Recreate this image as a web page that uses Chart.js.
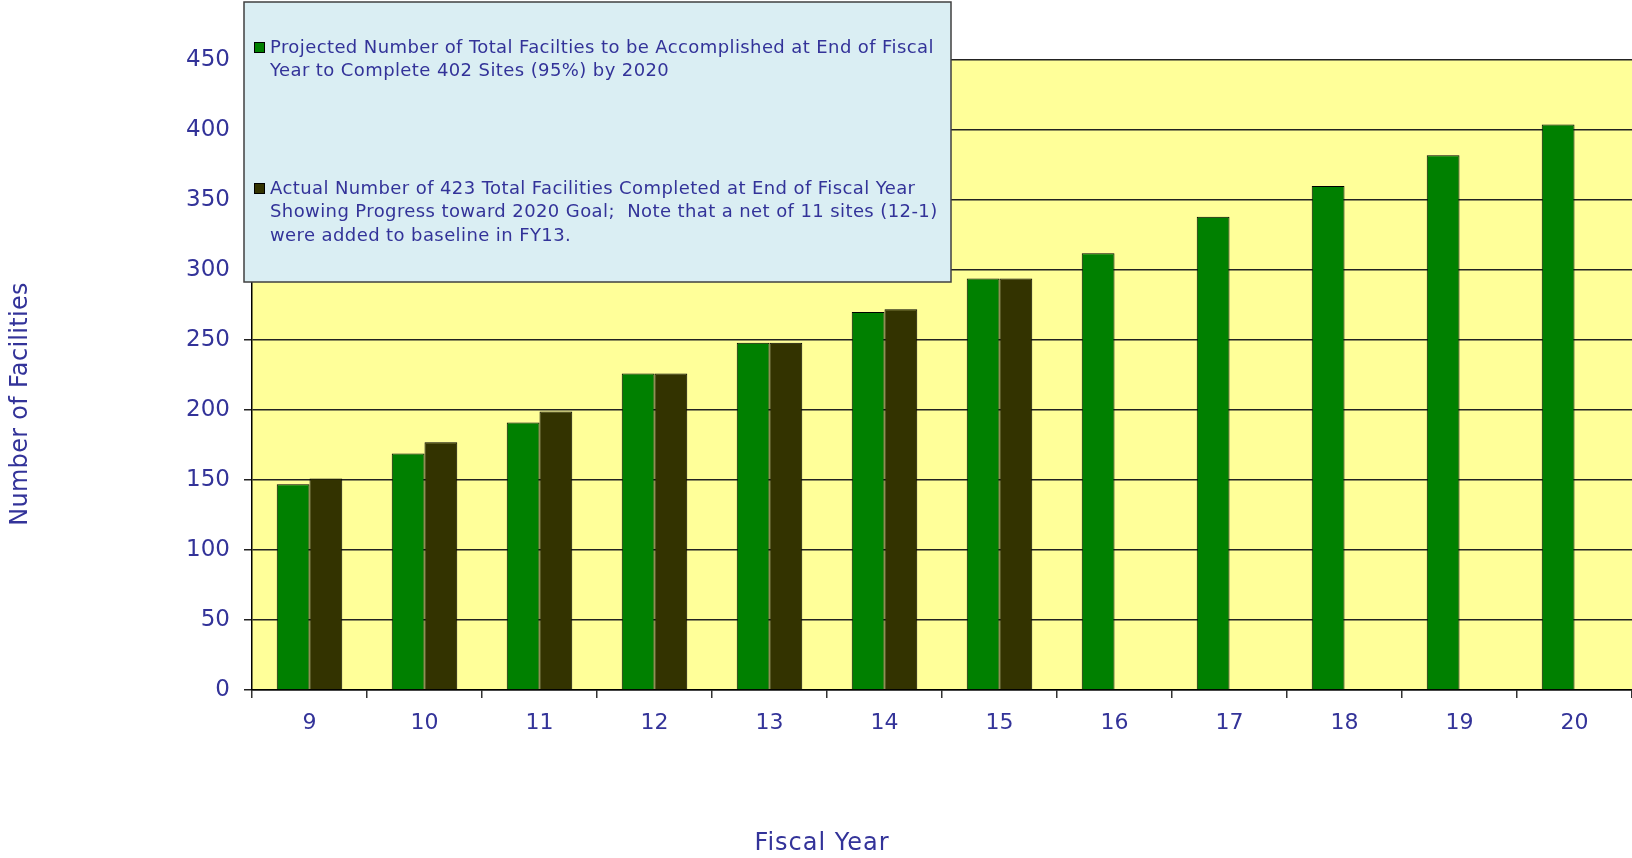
<!DOCTYPE html>
<html>
<head>
<meta charset="utf-8">
<title>Number of Facilities by Fiscal Year</title>
<script src="https://cdn.jsdelivr.net/npm/chart.js@4.4.1/dist/chart.umd.min.js"></script>
<style>
    html, body { margin: 0; padding: 0; background: #ffffff; }
    #wrap { width: 1632px; height: 858px; position: relative; }
</style>
</head>
<body>
<div id="wrap"><canvas id="facilitiesChart"></canvas></div>
<script>
const fiscalYears = ['9', '10', '11', '12', '13', '14', '15', '16', '17', '18', '19', '20'];
const projected = [147, 169, 191, 226, 248, 270, 294, 312, 338, 360, 382, 404];
const actual = [151, 177, 199, 226, 248, 272, 294, null, null, null, null, null];
const yTicks = [0, 50, 100, 150, 200, 250, 300, 350, 400, 450];

const projectedLegend = [
    'Projected Number of Total Facilties to be Accomplished at End of Fiscal',
    'Year to Complete 402 Sites (95%) by 2020'
];
const actualLegend = [
    'Actual Number of 423 Total Facilities Completed at End of Fiscal Year',
    'Showing Progress toward 2020 Goal;  Note that a net of 11 sites (12-1)',
    'were added to baseline in FY13.'
];

const textBlue = '#333399';
const fontFamily = '"DejaVu Sans", Verdana, sans-serif';

// yellow plot area behind the bars
const plotBackground = {
    id: 'plotBackground',
    beforeDraw(chart) {
        const { ctx, chartArea: a } = chart;
        ctx.save();
        ctx.fillStyle = '#FFFF99';
        ctx.fillRect(a.left, a.top, a.right - a.left, a.bottom - a.top);
        ctx.restore();
    }
};

// axis titles sit off-centre in the original, so draw them here
const axisTitles = {
    id: 'axisTitles',
    afterDraw(chart) {
        const ctx = chart.ctx;
        ctx.save();
        ctx.fillStyle = textBlue;
        ctx.font = '24px ' + fontFamily;
        ctx.textAlign = 'center';
        ctx.textBaseline = 'middle';
        ctx.letterSpacing = '1px';
        ctx.fillText('Fiscal Year', 822, 844);
        ctx.letterSpacing = '0.3px';
        ctx.translate(21, 404);
        ctx.rotate(-Math.PI / 2);
        ctx.fillText('Number of Facilities', 0, 0);
        ctx.restore();
    }
};

// boxed legend in the top left corner
const boxLegend = {
    id: 'boxLegend',
    afterDraw(chart) {
        const ctx = chart.ctx;
        const entries = [
            { lines: projectedLegend, y: 47 },
            { lines: actualLegend, y: 188 }
        ];
        ctx.save();
        ctx.fillStyle = '#DAEEF3';
        ctx.fillRect(244, 2, 707, 280);
        ctx.strokeStyle = '#404040';
        ctx.lineWidth = 1.5;
        ctx.strokeRect(244, 2, 707, 280);
        ctx.font = '18px ' + fontFamily;
        ctx.letterSpacing = '0.4px';
        ctx.textBaseline = 'middle';
        chart.data.datasets.forEach((ds, i) => {
            const e = entries[i];
            ctx.fillStyle = ds.backgroundColor;
            ctx.fillRect(254, e.y - 5, 11, 11);
            ctx.strokeStyle = '#000';
            ctx.lineWidth = 1;
            ctx.strokeRect(254.5, e.y - 4.5, 10, 10);
            ctx.fillStyle = textBlue;
            e.lines.forEach((line, k) => {
                ctx.fillText(line, 270, e.y + 1 + k * 23.7);
            });
        });
        ctx.restore();
    }
};

const ctx = document.getElementById('facilitiesChart').getContext('2d');
new Chart(ctx, {
    type: 'bar',
    data: {
        labels: fiscalYears,
        datasets: [{
            label: projectedLegend.join(' '),
            data: projected,
            backgroundColor: '#008000',
            borderColor: '#000000',
            borderWidth: 1,
            categoryPercentage: 0.57,
            barPercentage: 1.0
        }, {
            label: actualLegend.join(' '),
            data: actual,
            backgroundColor: '#333300',
            borderColor: '#000000',
            borderWidth: 1,
            categoryPercentage: 0.57,
            barPercentage: 1.0
        }]
    },
    options: {
        responsive: true,
        maintainAspectRatio: false,
        animation: false,
        layout: {
            padding: { top: 60, bottom: 0, left: 0, right: 0 }
        },
        plugins: {
            legend: { display: false },
            title: { display: false },
            tooltip: { enabled: false }
        },
        scales: {
            x: {
                offset: true,
                afterFit: (s) => { s.height = 168; },
                grid: {
                    offset: true,
                    drawOnChartArea: false,
                    drawTicks: true,
                    tickLength: 8,
                    color: '#333333',
                    lineWidth: 1.5
                },
                border: { color: '#000000', width: 1.5 },
                ticks: {
                    color: textBlue,
                    padding: 12,
                    font: { family: fontFamily, size: 22 }
                }
            },
            y: {
                min: 0,
                max: 450,
                afterFit: (s) => { s.width = 252; },
                afterBuildTicks: (s) => { s.ticks = yTicks.map(v => ({ value: v })); },
                grid: {
                    color: '#222222',
                    lineWidth: 1.5,
                    drawTicks: true,
                    tickLength: 8
                },
                border: { color: '#000000', width: 1.5 },
                ticks: {
                    color: textBlue,
                    padding: 14,
                    font: { family: fontFamily, size: 23 }
                }
            }
        }
    },
    plugins: [plotBackground, axisTitles, boxLegend]
});
</script>
</body>
</html>
